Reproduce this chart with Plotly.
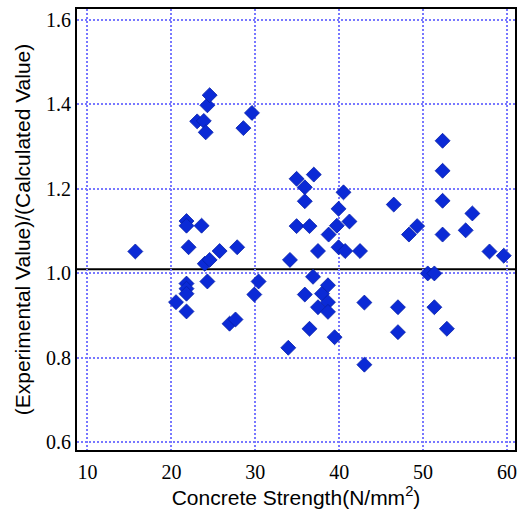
import plotly.graph_objects as go

# Concrete strength (N/mm^2)
strength = [
    15.7, 20.55, 21.8, 21.8, 23.6, 22.05, 21.8, 21.8, 21.8, 21.8,
    23.07, 23.86, 24.09, 24.29, 24.56, 23.97, 24.56, 24.29, 25.75, 26.93,
    27.64, 27.84, 28.58, 29.6, 29.88, 30.39,
    33.93, 34.13, 34.92, 34.92, 35.9, 35.9, 35.9, 36.46, 36.46, 36.88,
    36.97, 37.47, 37.47, 37.95, 38.66, 38.66, 38.66, 38.74, 39.45, 39.72,
    39.92, 39.92, 40.51, 40.71, 41.22, 42.48, 43.0, 43.0,
    46.5, 47.0, 47.0, 48.31, 49.29, 50.55, 51.34, 51.34, 52.32, 52.32,
    52.32, 52.32, 52.83, 55.07, 55.87, 57.91, 59.61,
]
# (Experimental value)/(Calculated value)
ratio = [
    1.052, 0.932, 1.124, 1.113, 1.113, 1.062, 0.976, 0.964, 0.952, 0.910,
    1.360, 1.361, 1.334, 1.398, 1.422, 1.023, 1.032, 0.981, 1.053, 0.881,
    0.891, 1.062, 1.344, 1.380, 0.950, 0.981,
    0.824, 1.032, 1.224, 1.112, 1.204, 1.171, 0.950, 1.112, 0.869, 0.992,
    1.234, 1.053, 0.920, 0.952, 0.972, 0.932, 0.909, 1.092, 0.849, 1.113,
    1.153, 1.062, 1.192, 1.053, 1.123, 1.053, 0.931, 0.784,
    1.163, 0.920, 0.861, 1.092, 1.112, 1.000, 1.000, 0.920, 1.314, 1.243,
    1.172, 1.092, 0.869, 1.102, 1.142, 1.052, 1.042,
]
x_ticks = [10, 20, 30, 40, 50, 60]
y_ticks = [0.6, 0.8, 1.0, 1.2, 1.4, 1.6]
y_tick_labels = ["0.6", "0.8", "1.0", "1.2", "1.4", "1.6"]
x_range = [8.75, 60.95]
y_range = [0.582, 1.626]
reference_line = 1.01

fig = go.Figure()
fig.add_trace(go.Scatter(
    x=strength, y=ratio, mode="markers",
    marker=dict(symbol="diamond", size=11.5, color="#0b2ad6",
                line=dict(width=0.8, color="#0620a8")),
    showlegend=False, cliponaxis=False,
))
fig.add_shape(type="line", xref="paper", x0=0, x1=1, yref="y",
              y0=reference_line, y1=reference_line,
              line=dict(color="black", width=2), layer="between")

grid = dict(showgrid=True, gridcolor="#7878ff", gridwidth=2, griddash="2px,2px")
fig.update_xaxes(range=x_range, tickvals=x_ticks, zeroline=False,
                 showline=True, linecolor="black", linewidth=2, mirror=True,
                 ticks="", ticklabelstandoff=3,
                 tickfont=dict(family="Liberation Serif", size=20, color="black"),
                 title=dict(text="Concrete Strength(N/mm<sup>2</sup>)",
                            font=dict(family="Liberation Sans", size=21, color="black"),
                            standoff=5),
                 **grid)
fig.update_yaxes(range=y_range, tickvals=y_ticks, ticktext=y_tick_labels, zeroline=False,
                 showline=True, linecolor="black", linewidth=2, mirror=True,
                 ticks="", tickfont=dict(family="Liberation Serif", size=20, color="black"),
                 title=dict(text="(Experimental Value)/(Calculated Value)",
                            font=dict(family="Liberation Sans", size=21, color="black"),
                            standoff=10),
                 **grid)
fig.update_layout(width=520, height=515, margin=dict(l=77, r=3, t=9, b=65),
                  plot_bgcolor="white", paper_bgcolor="white")
fig.write_html("out.html")
